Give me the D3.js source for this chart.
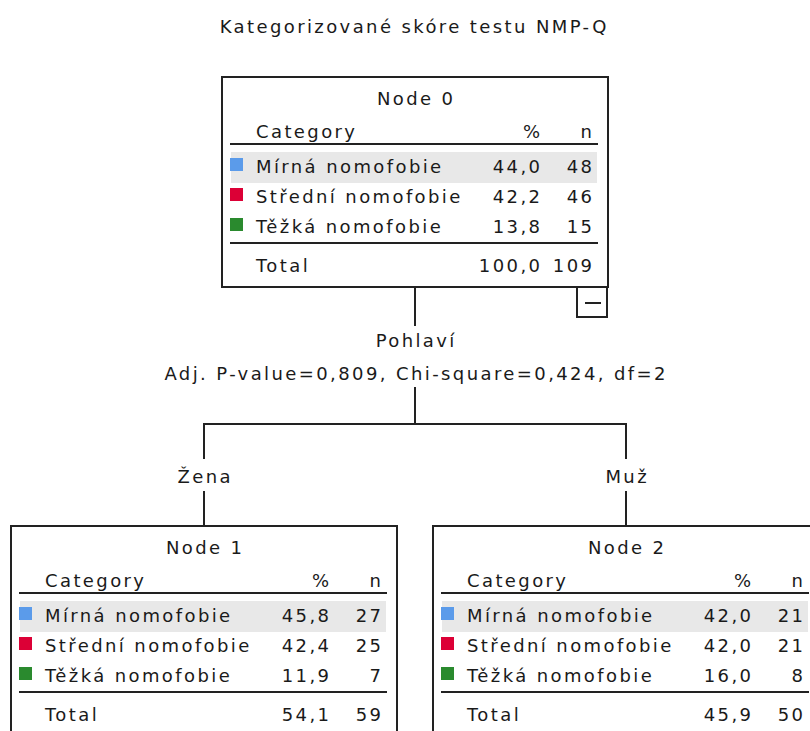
<!DOCTYPE html>
<html>
<head>
<meta charset="utf-8">
<script src="https://cdn.jsdelivr.net/npm/d3@7"></script>
<style>
  body { margin: 0; background: #fff; }
  svg text { font-family: "DejaVu Sans", Verdana, sans-serif; font-size: 18px; fill: #1a1a1a; letter-spacing: 2.4px; }
</style>
</head>
<body>
<svg id="tree" width="810" height="731"></svg>
<script>
// chart data
var title = "Kategorizované skóre testu NMP-Q";
var categories = ["Mírná nomofobie", "Střední nomofobie", "Těžká nomofobie"];
var catColors = ["#5b9bea", "#dc0036", "#2a8a2e"];
var nodeNames = ["Node 0", "Node 1", "Node 2"];
var nodePct = [
    ["44,0", "42,2", "13,8"],
    ["45,8", "42,4", "11,9"],
    ["42,0", "42,0", "16,0"]
];
var nodeN = [
    [48, 46, 15],
    [27, 25, 7],
    [21, 21, 8]
];
var nodeTotalPct = ["100,0", "54,1", "45,9"];
var nodeTotalN = [109, 59, 50];
var splitVar = "Pohlaví";
var splitStats = "Adj. P-value=0,809, Chi-square=0,424, df=2";
var branchLabels = ["Žena", "Muž"];

var svg = d3.select("#tree");
var boxW = 386, boxH = 210;
var ls = 2.4; // letter spacing, trailing gap to correct anchors

// hierarchy -> tree layout gives the node centres
var root = d3.hierarchy({
    id: 0,
    children: [{id: 1, label: branchLabels[0]}, {id: 2, label: branchLabels[1]}]
});
d3.tree().nodeSize([422, 449])(root);
root.each(function(d) {
    d.cx = d.x + 415;
    d.top = d.y + 77;
});

svg.append("text")
    .attr("x", 413 + ls / 2).attr("y", 33)
    .attr("text-anchor", "middle")
    .text(title);

// rows inside a node box
var rowY = d3.scaleLinear().domain([0, 1]).range([96, 126]);
var lineColor = "#222";

var drawNode = function(d) {
    var i = d.data.id;
    var g = svg.append("g")
        .attr("transform", "translate(" + (d.cx - boxW / 2) + "," + d.top + ")");

    g.append("rect")
        .attr("x", 9).attr("y", 75)
        .attr("width", 366).attr("height", 31)
        .attr("fill", "#e8e8e8");

    g.append("rect")
        .attr("width", boxW).attr("height", boxH)
        .attr("fill", "none")
        .attr("stroke", lineColor)
        .attr("stroke-width", 2);

    g.append("text")
        .attr("x", boxW / 2 + ls / 2).attr("y", 28)
        .attr("text-anchor", "middle")
        .text(nodeNames[i]);

    var pctX = 318 + ls, nX = 370 + ls;

    var header = g.append("g").attr("transform", "translate(0,61)");
    header.append("text").attr("x", 34).text("Category");
    header.append("text").attr("x", pctX).attr("text-anchor", "end").text("%");
    header.append("text").attr("x", nX).attr("text-anchor", "end").text("n");

    [67, 166].forEach(function(y) {
        g.append("line")
            .attr("x1", 8).attr("x2", 376)
            .attr("y1", y).attr("y2", y)
            .attr("stroke", lineColor)
            .attr("stroke-width", 2);
    });

    var rows = g.selectAll(".row")
        .data(categories)
        .enter()
        .append("g")
        .attr("class", "row")
        .attr("transform", function(c, k) {
            return "translate(0," + rowY(k) + ")";
        });

    rows.append("rect")
        .attr("x", 8).attr("y", -15)
        .attr("width", 13).attr("height", 13)
        .attr("fill", function(c, k) { return catColors[k]; });
    rows.append("text").attr("x", 34).text(function(c) { return c; });
    rows.append("text").attr("x", pctX).attr("text-anchor", "end")
        .text(function(c, k) { return nodePct[i][k]; });
    rows.append("text").attr("x", nX).attr("text-anchor", "end")
        .text(function(c, k) { return nodeN[i][k]; });

    var total = g.append("g").attr("transform", "translate(0,195)");
    total.append("text").attr("x", 34).text("Total");
    total.append("text").attr("x", pctX).attr("text-anchor", "end").text(nodeTotalPct[i]);
    total.append("text").attr("x", nX).attr("text-anchor", "end").text(nodeTotalN[i]);

    return g;
};

root.descendants().forEach(drawNode);

// collapse marker under root
var r0 = root;
var cm = svg.append("g")
    .attr("transform", "translate(" + (r0.cx + boxW / 2 - 31) + "," + (r0.top + boxH) + ")");
cm.append("rect")
    .attr("width", 30).attr("height", 30)
    .attr("fill", "#fff")
    .attr("stroke", lineColor)
    .attr("stroke-width", 2);
cm.append("line")
    .attr("x1", 8).attr("x2", 24)
    .attr("y1", 16).attr("y2", 16)
    .attr("stroke", lineColor)
    .attr("stroke-width", 2);

// split info and connectors
var splitTop = r0.top + boxH;
svg.append("text")
    .attr("x", r0.cx + ls / 2).attr("y", 347)
    .attr("text-anchor", "middle")
    .text(splitVar);
svg.append("text")
    .attr("x", r0.cx + ls / 2).attr("y", 380)
    .attr("text-anchor", "middle")
    .text(splitStats);

var link = function(x1, y1, x2, y2) {
    svg.append("line")
        .attr("x1", x1).attr("y1", y1)
        .attr("x2", x2).attr("y2", y2)
        .attr("stroke", lineColor)
        .attr("stroke-width", 2);
};
var barY = 424;
link(r0.cx, splitTop, r0.cx, 326);
link(r0.cx, 387, r0.cx, barY);
var kids = root.children;
link(kids[0].cx - 1, barY, kids[1].cx + 1, barY);
kids.forEach(function(k) {
    link(k.cx, barY, k.cx, 459);
    svg.append("text")
        .attr("x", k.cx + ls / 2).attr("y", 483)
        .attr("text-anchor", "middle")
        .text(k.data.label);
    link(k.cx, 491, k.cx, k.top);
});
</script>
</body>
</html>
